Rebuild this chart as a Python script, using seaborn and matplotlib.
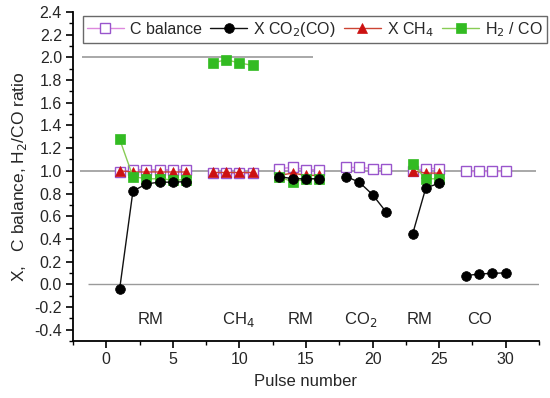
import numpy as np
import pandas as pd
import matplotlib
matplotlib.use("Agg")
import matplotlib.pyplot as plt
import seaborn as sns
from matplotlib.lines import Line2D
from matplotlib.ticker import MultipleLocator

sns.set_theme(style="ticks")
plt.rcParams['font.family'] = ['Liberation Sans', 'DejaVu Sans']

# ---- data (pulse number, segment id, value) ----
pulse = [1, 2, 3, 4, 5, 6, 8, 9, 10, 11, 13, 14, 15, 16, 18, 19, 20, 21, 23, 24, 25, 27, 28, 29, 30]
segment = [0]*6 + [1]*4 + [2]*4 + [3]*4 + [4]*3 + [5]*4
c_balance = [0.99, 1.01, 1.01, 1.01, 1.01, 1.01,
             0.98, 0.98, 0.98, 0.98,
             1.02, 1.03, 1.01, 1.01,
             1.03, 1.03, 1.02, 1.02,
             1.00, 1.02, 1.02,
             1.00, 1.00, 1.00, 1.00]
x_co2 = [-0.045, 0.82, 0.885, 0.90, 0.90, 0.905,
         None, None, None, None,
         0.95, 0.93, 0.93, 0.93,
         0.95, 0.90, 0.79, 0.64,
         0.44, 0.85, 0.89,
         0.077, 0.09, 0.097, 0.10]
x_ch4 = [1.00, 0.99, 0.99, 0.99, 0.99, 0.99,
         0.99, 0.99, 0.99, 0.99,
         0.96, 0.98, 0.96, 0.96,
         None, None, None, None,
         1.00, 0.98, 0.98,
         None, None, None, None]
h2_co = [1.28, 0.95, 0.93, 0.93, 0.92, 0.92,
         1.95, 1.98, 1.95, 1.93,
         0.95, 0.90, 0.93, 0.93,
         None, None, None, None,
         1.06, 0.93, 0.93,
         None, None, None, None]

feed_labels = ["RM", "CH$_4$", "RM", "CO$_2$", "RM", "CO"]
feed_x = [3.3, 9.9, 14.6, 19.1, 23.5, 28.0]

df = pd.DataFrame({"pulse": pulse, "seg": segment,
                   "cbal": c_balance, "xco2": x_co2, "xch4": x_ch4, "h2co": h2_co})

fig = plt.figure(figsize=(5.5, 3.98), dpi=100)
ax = fig.add_axes([73/550, 1-341/398, 466/550, 329/398])

# reference lines
ax.hlines(2.0, -1.8, 15.5, color="#9a9a9a", lw=1.2, zorder=1)
ax.hlines(1.0, -2.0, 32.3, color="#9a9a9a", lw=1.2, zorder=1)
ax.hlines(0.0, -1.35, 32.5, color="#9a9a9a", lw=1.0, zorder=1)

styles = {
    "cbal": dict(color="#dd88dd", marker="s", ms=6.5, mfc="white", mec="#9955cc", mew=1.0, lw=1.0, z=2),
    "xch4": dict(color="#cc4433", marker="^", ms=7, mfc="#cc1111", mec="#cc1111", mew=0.5, lw=1.0, z=3),
    "h2co": dict(color="#88cc55", marker="s", ms=6.5, mfc="#33bb22", mec="#33bb22", mew=0.5, lw=1.0, z=4),
    "xco2": dict(color="#111111", marker="o", ms=7, mfc="black", mec="black", mew=0.5, lw=1.0, z=5),
}

for col in ["cbal", "xch4", "h2co", "xco2"]:
    st = styles[col]
    sub = df[["pulse", "seg", col]].dropna()
    sns.lineplot(data=sub, x="pulse", y=col, units="seg", estimator=None, ax=ax,
                 color=st["color"], lw=st["lw"], marker=st["marker"], markersize=st["ms"],
                 markerfacecolor=st["mfc"], markeredgecolor=st["mec"], markeredgewidth=st["mew"],
                 zorder=st["z"], legend=False, sort=False)

for lab, xx in zip(feed_labels, feed_x):
    ax.text(xx, -0.31, lab, ha="center", va="center", fontsize=12)

ax.set_xlim(-2.5, 32.5)
ax.set_ylim(-0.5, 2.4)
ax.xaxis.set_major_locator(MultipleLocator(5))
ax.xaxis.set_minor_locator(MultipleLocator(2.5))
ax.yaxis.set_minor_locator(MultipleLocator(0.1))
yt = np.arange(-0.4, 2.41, 0.2)
ax.set_yticks(yt)
ax.set_yticklabels(["0.0" if abs(v) < 1e-9 else f"{v:.1f}" for v in yt])
ax.tick_params(axis="both", which="major", direction="out", length=5, width=1.2, labelsize=11.5, color="black", pad=3)
ax.tick_params(axis="both", which="minor", direction="out", length=3, width=1.0, color="black")
for s in ["top", "right"]:
    ax.spines[s].set_visible(False)
for s in ["left", "bottom"]:
    ax.spines[s].set_color("black")
    ax.spines[s].set_linewidth(1.3)

ax.set_xlabel("Pulse number", fontsize=12, labelpad=5)
ax.set_ylabel("X,   C balance, H$_2$/CO ratio", fontsize=12.5, labelpad=4)

handles = []
labels = ["C balance", "X CO$_2$(CO)", "X CH$_4$", "H$_2$ / CO"]
for col in ["cbal", "xco2", "xch4", "h2co"]:
    st = styles[col]
    handles.append(Line2D([], [], color=st["color"], lw=st["lw"], marker=st["marker"], markersize=st["ms"],
                          markerfacecolor=st["mfc"], markeredgecolor=st["mec"], markeredgewidth=st["mew"]))
leg = ax.legend(handles, labels, loc="upper left", bbox_to_anchor=(0.0215, 0.912, 0.996, 0.076),
                mode="expand", ncol=4, fontsize=11.5, frameon=True, fancybox=False,
                handlelength=2.3, handletextpad=0.4, columnspacing=0.8, borderaxespad=0, borderpad=0.25)
leg.get_frame().set_edgecolor("#444444")
leg.get_frame().set_linewidth(1.0)
leg.set_clip_on(False)

fig.savefig("out.png", dpi=100)
